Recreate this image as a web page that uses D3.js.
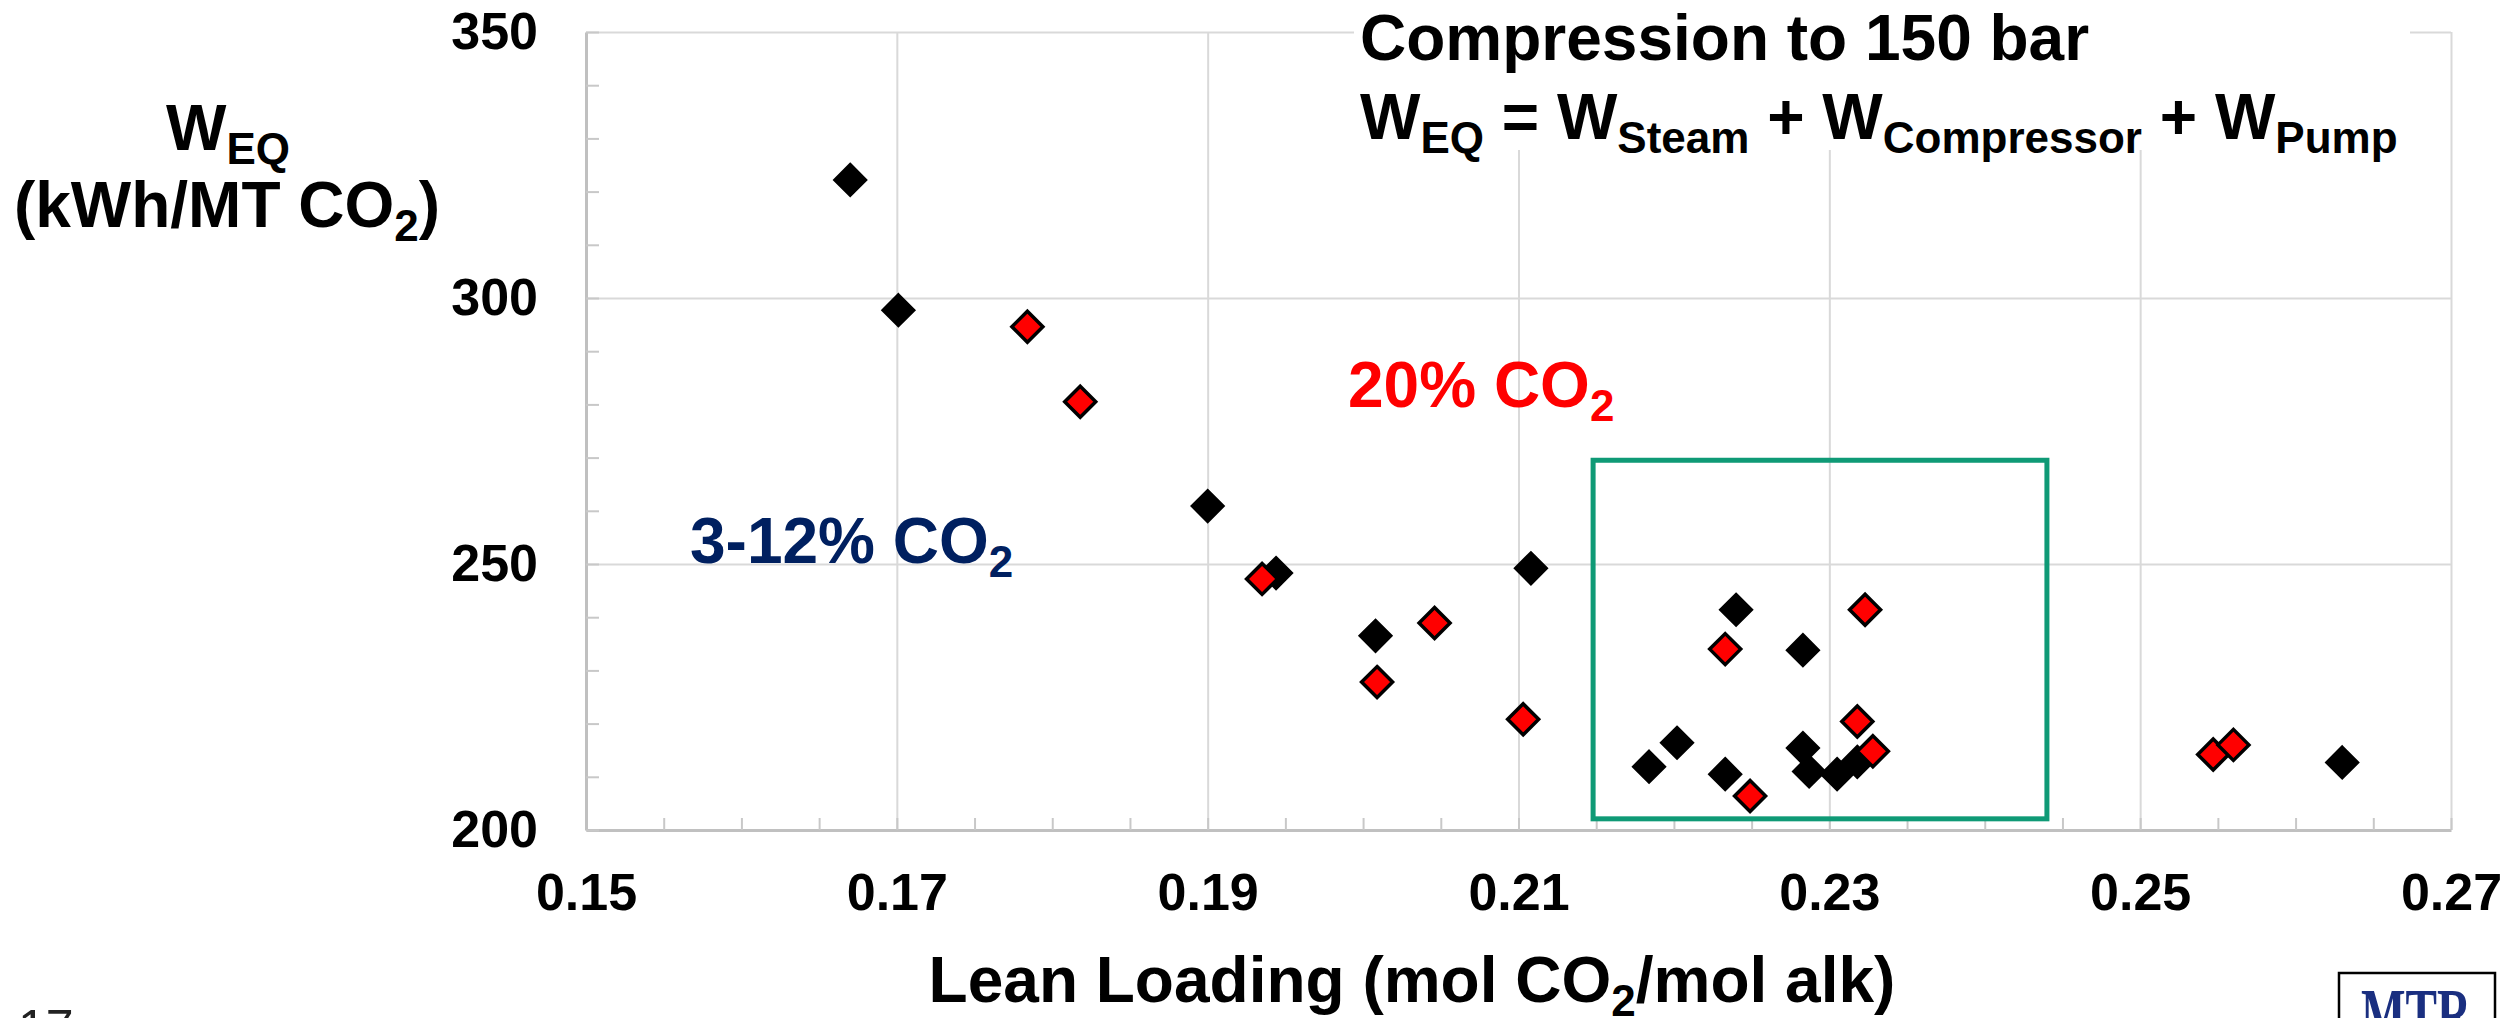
<!DOCTYPE html>
<html>
<head>
<meta charset="utf-8">
<script src="https://cdn.jsdelivr.net/npm/d3@7"></script>
<style>
  html, body { margin: 0; padding: 0; background: #fff; }
  svg text { font-family: "Liberation Sans", Arial, sans-serif; font-weight: bold; }
</style>
</head>
<body>
<svg id="chart"></svg>
<script>
// 3-12% CO2 cases (black)
const blackLoading = [0.1670, 0.1701, 0.1900, 0.1944, 0.2008, 0.2108, 0.2240, 0.2283, 0.2202, 0.2184, 0.2233, 0.2283, 0.2287, 0.2305, 0.2318, 0.2630];
const blackWork    = [322.2, 297.7, 260.9, 248.3, 236.5, 249.2, 241.4, 233.8, 216.4, 211.9, 210.5, 215.4, 211.0, 210.5, 212.8, 212.7];
// 20% CO2 cases (red)
const redLoading = [0.1784, 0.1818, 0.1935, 0.2046, 0.2009, 0.2103, 0.2323, 0.2233, 0.2318, 0.2249, 0.2328, 0.2547, 0.2560];
const redWork    = [294.6, 280.5, 247.2, 238.9, 227.8, 220.8, 241.4, 234.0, 220.4, 206.4, 214.8, 214.2, 216.0];

const xTicks = [0.15, 0.17, 0.19, 0.21, 0.23, 0.25, 0.27];
const yTicks = [200, 250, 300, 350];
const xMinor = d3.range(0, 25).map(i => 0.15 + i * 0.005);
const yMinor = d3.range(0, 16).map(i => 200 + i * 10);

// highlighted region (green box), in data units
const boxLoading = [0.2148, 0.2440];
const boxWork = [202.1, 269.5];

const width = 2517;
const height = 1018;
const margin = { top: 32, right: 66, bottom: 188, left: 586 };

const svg = d3.select('#chart')
  .attr('width', width)
  .attr('height', height);

svg.append('rect').attr('width', width).attr('height', height).attr('fill', '#fff');

const x = d3.scaleLinear()
  .domain([0.15, 0.27])
  .range([margin.left, width - margin.right]);

const y = d3.scaleLinear()
  .domain([200, 350])
  .range([height - margin.bottom, margin.top]);

const plotH = height - margin.bottom - margin.top;
const plotW = width - margin.right - margin.left;

// gridlines
svg.append('g')
  .attr('class', 'grid')
  .attr('transform', `translate(0,${height - margin.bottom})`)
  .call(d3.axisBottom(x).tickValues(xTicks.slice(1)).tickSize(-plotH).tickFormat(''))
  .call(g => g.select('.domain').remove());

svg.append('g')
  .attr('class', 'grid')
  .attr('transform', `translate(${margin.left},0)`)
  .call(d3.axisLeft(y).tickValues(yTicks.slice(1)).tickSize(-plotW).tickFormat(''))
  .call(g => g.select('.domain').remove());

svg.selectAll('.grid line').attr('stroke', '#d9d9d9').attr('stroke-width', 2);

// white backing behind the title (hides gridlines there)
svg.append('rect')
  .attr('x', 1354)
  .attr('y', 0)
  .attr('width', 2410 - 1354)
  .attr('height', 150)
  .attr('fill', '#fff');

// minor ticks pointing inward + axis lines
const xAxisMinor = svg.append('g')
  .attr('transform', `translate(0,${height - margin.bottom})`)
  .call(d3.axisBottom(x).tickValues(xMinor).tickSizeInner(-12).tickSizeOuter(0).tickFormat(''));

const yAxisMinor = svg.append('g')
  .attr('transform', `translate(${margin.left},0)`)
  .call(d3.axisLeft(y).tickValues(yMinor).tickSizeInner(-13).tickSizeOuter(0).tickFormat(''));

[xAxisMinor, yAxisMinor].forEach(g => {
  g.selectAll('line').attr('stroke', '#c8c8c8').attr('stroke-width', 2);
  g.select('.domain').attr('stroke', '#c0c0c0').attr('stroke-width', 3);
});

// tick labels
const xAxis = svg.append('g')
  .attr('transform', `translate(0,${height - margin.bottom})`)
  .call(d3.axisBottom(x).tickValues(xTicks).tickSize(0).tickPadding(43).tickFormat(d3.format('.2f')));

const yAxis = svg.append('g')
  .attr('transform', `translate(${margin.left},0)`)
  .call(d3.axisLeft(y).tickValues(yTicks).tickSize(0).tickPadding(48).tickFormat(d3.format('d')));

[xAxis, yAxis].forEach(g => {
  g.select('.domain').remove();
  g.selectAll('text')
    .attr('fill', '#000')
    .style('font-size', '52px')
    .style('font-family', '"Liberation Sans", Arial, sans-serif')
    .style('font-weight', 'bold');
});

// green box
svg.append('rect')
  .attr('x', x(boxLoading[0]))
  .attr('y', y(boxWork[1]))
  .attr('width', x(boxLoading[1]) - x(boxLoading[0]))
  .attr('height', y(boxWork[0]) - y(boxWork[1]))
  .attr('fill', 'none')
  .attr('stroke', '#0f9a76')
  .attr('stroke-width', 5);

// markers
const diamond = d3.symbol().type(d3.symbolDiamond2).size(17.5 * 17.5 * 2);

const blackData = blackLoading.map((v, i) => ({ x: v, y: blackWork[i] }));
const redData = redLoading.map((v, i) => ({ x: v, y: redWork[i] }));

svg.append('g').selectAll('path')
  .data(blackData)
  .enter().append('path')
  .attr('d', diamond)
  .attr('transform', d => `translate(${x(d.x)},${y(d.y)})`)
  .attr('fill', '#000')
  .attr('stroke', '#000')
  .attr('stroke-width', 3);

svg.append('g').selectAll('path')
  .data(redData)
  .enter().append('path')
  .attr('d', diamond)
  .attr('transform', d => `translate(${x(d.x)},${y(d.y)})`)
  .attr('fill', '#ff0000')
  .attr('stroke', '#000')
  .attr('stroke-width', 3.5);

// helper for text with subscripts: parts = [[text, isSub], ...]
function subText(parent, px, py, parts, size, subSize, color, anchor) {
  const t = parent.append('text')
    .attr('x', px)
    .attr('y', py)
    .attr('fill', color)
    .attr('text-anchor', anchor)
    .style('font-size', size + 'px');
  let shifted = false;
  parts.forEach(([str, sub]) => {
    const ts = t.append('tspan').text(str);
    if (sub && !shifted) { ts.attr('dy', 14); shifted = true; }
    if (!sub && shifted) { ts.attr('dy', -14); shifted = false; }
    ts.style('font-size', (sub ? subSize : size) + 'px');
  });
  return t;
}

// title
svg.append('text')
  .attr('x', 1360)
  .attr('y', 60)
  .attr('fill', '#000')
  .style('font-size', '64px')
  .text('Compression to 150 bar');

subText(svg, 1360, 139, [
  ['W', false], ['EQ', true], [' = W', false], ['Steam', true],
  [' + W', false], ['Compressor', true], [' + W', false], ['Pump', true]
], 64, 44, '#000', 'start');

// y-axis title
subText(svg, 228, 150, [['W', false], ['EQ', true]], 64, 44, '#000', 'middle');
subText(svg, 227, 227, [['(kWh/MT CO', false], ['2', true], [')', false]], 64, 44, '#000', 'middle');

// x-axis title
subText(svg, 1412, 1002, [['Lean Loading (mol CO', false], ['2', true], ['/mol alk)', false]], 64, 44, '#000', 'middle');

// annotations
subText(svg, 1348, 407, [['20% CO', false], ['2', true]], 64, 44, '#ff0000', 'start');
subText(svg, 690, 563, [['3-12% CO', false], ['2', true]], 64, 44, '#002060', 'start');

// slide number (cut off at bottom edge, as in the source slide)
svg.append('text')
  .attr('x', 18)
  .attr('y', 1045)
  .attr('fill', '#222')
  .style('font-weight', 'normal')
  .style('font-size', '50px')
  .text('17');

// logo (cut off at bottom edge)
svg.append('rect')
  .attr('x', 2339)
  .attr('y', 973)
  .attr('width', 156)
  .attr('height', 60)
  .attr('fill', '#fff')
  .attr('stroke', '#000')
  .attr('stroke-width', 2.5);

svg.append('text')
  .attr('x', 2361)
  .attr('y', 1038)
  .attr('fill', '#1a2f80')
  .attr('textLength', 110)
  .attr('lengthAdjust', 'spacingAndGlyphs')
  .style('font-family', '"Liberation Serif", serif')
  .style('font-size', '72px')
  .text('MTR');
</script>
</body>
</html>
